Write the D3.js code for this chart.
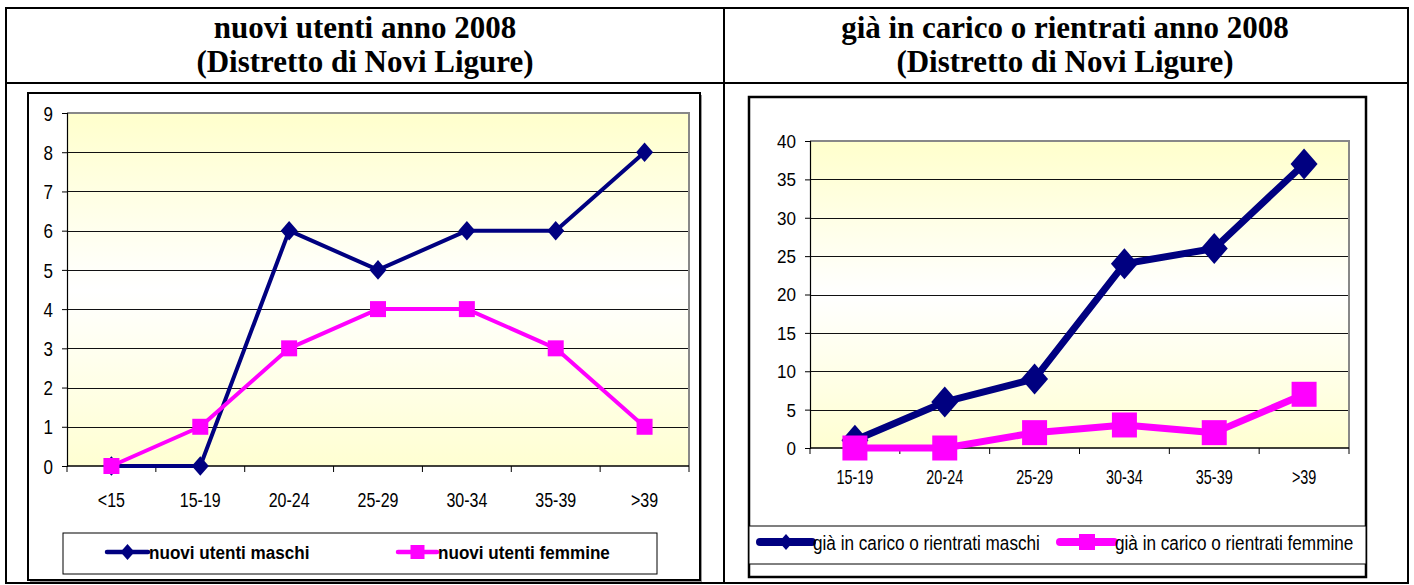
<!DOCTYPE html>
<html><head><meta charset="utf-8">
<script src="https://cdn.jsdelivr.net/npm/d3@7"></script>
<style>body{margin:0;background:#fff}svg{display:block}</style>
</head><body><svg id="c" width="1414" height="585"></svg>
<script>
const leftTitle = ["nuovi utenti anno 2008", "(Distretto di Novi Ligure)"];
const rightTitle = ["già in carico o rientrati anno 2008", "(Distretto di Novi Ligure)"];
const leftCats = ["<15","15-19","20-24","25-29","30-34","35-39",">39"];
const leftMale = [0,0,6,5,6,6,8];
const leftFemale = [0,1,3,4,4,3,1];
const leftTicks = [0,1,2,3,4,5,6,7,8,9];
const leftNames = ["nuovi utenti maschi","nuovi utenti femmine"];
const rightCats = ["15-19","20-24","25-29","30-34","35-39",">39"];
const rightMale = [1,6,9,24,26,37];
const rightFemale = [0,0,2,3,2,7];
const rightTicks = [0,5,10,15,20,25,30,35,40];
const rightNames = ["già in carico o rientrati maschi","già in carico o rientrati femmine"];

const NAVY="#000080", MAG="#FF00FF";
const FONT="Liberation Sans, Arial, sans-serif";
const svg = d3.select("#c");
const defs = svg.append("defs");
const g = defs.append("linearGradient").attr("id","bg").attr("x1",0).attr("y1",0).attr("x2",0).attr("y2",1);
g.append("stop").attr("offset","0%").attr("stop-color","#FFFFCC");
g.append("stop").attr("offset","50%").attr("stop-color","#FFFFFF");
g.append("stop").attr("offset","100%").attr("stop-color","#FFFFD2");

// outer table
const T = svg.append("g").attr("stroke","#000").attr("stroke-width",2).attr("fill","none");
T.append("rect").attr("x",6).attr("y",8).attr("width",1402).attr("height",575);
T.append("line").attr("x1",724).attr("x2",724).attr("y1",8).attr("y2",583);
T.append("line").attr("x1",6).attr("x2",1408).attr("y1",83).attr("y2",83);

function title(lines, cx){
  lines.forEach((t,i)=>svg.append("text").attr("x",cx).attr("y",38+i*34)
    .attr("text-anchor","middle").attr("font-family","Liberation Serif, Times New Roman, serif")
    .attr("font-weight","bold").attr("font-size",31).text(t));
}
title(leftTitle, 365);
title(rightTitle, 1065);

function diamond(s){return `M0,${-s*1.15}L${s},0L0,${s*1.15}L${-s},0Z`;}

function chart(o){
  const x = d3.scaleBand().domain(o.cats).range([o.x0,o.x1]);
  const y = d3.scaleLinear().domain([0,o.max]).range([o.y0,o.y1]);
  const G = svg.append("g");
  G.append("rect").attr("x",o.x0).attr("y",o.y1).attr("width",o.x1-o.x0).attr("height",o.y0-o.y1)
    .attr("fill","url(#bg)");
  G.append("g").selectAll("line").data(o.ticks.slice(1)).join("line")
    .attr("x1",o.x0).attr("x2",o.x1).attr("y1",d=>Math.round(y(d))+0.5).attr("y2",d=>Math.round(y(d))+0.5)
    .attr("stroke","#111").attr("stroke-width",1);
  G.append("path").attr("d",`M${o.x0},${o.y1}H${o.x1}V${o.y0}`).attr("fill","none").attr("stroke","#888").attr("stroke-width",2);
  // y axis
  const ya = d3.axisLeft(y).tickValues(o.ticks).tickSize(5).tickFormat(d3.format("d"));
  const yg = G.append("g").attr("transform",`translate(${o.x0},0)`).call(ya);
  yg.select(".domain").attr("stroke","#000").attr("stroke-width",1.2);
  yg.selectAll(".tick line").attr("stroke","#000");
  yg.selectAll(".tick text").attr("font-family",FONT).attr("font-size",o.yfs).attr("fill","#000")
    .attr("dy",null).attr("x",0).attr("y",0)
    .attr("transform",`translate(${-o.ypad},${o.yfs*0.36}) scale(${o.ysx},1)`);
  // x axis
  const xb = d3.scaleLinear().domain([0,o.cats.length]).range([o.x0,o.x1]);
  G.append("line").attr("x1",o.x0).attr("x2",o.x1).attr("y1",o.y0).attr("y2",o.y0).attr("stroke","#000").attr("stroke-width",1.5);
  G.append("g").selectAll("line").data(d3.range(o.cats.length+1)).join("line")
    .attr("x1",d=>xb(d)).attr("x2",d=>xb(d)).attr("y1",o.y0).attr("y2",o.y0+6).attr("stroke","#000").attr("stroke-width",1);
  G.append("g").selectAll("text").data(o.cats).join("text")
    .attr("transform",d=>`translate(${x(d)+x.bandwidth()/2},${o.labY}) scale(${o.xsx},1)`)
    .attr("text-anchor","middle").attr("font-family",FONT)
    .attr("font-size",o.xfs).text(d=>d);
  const cx = (d,i)=>x(o.cats[i])+x.bandwidth()/2;
  const line = d3.line().x((d,i)=>cx(d,i)).y(d=>y(d));
  [[o.male,NAVY,"d"],[o.female,MAG,"s"]].forEach(([data,col,m])=>{
    G.append("path").attr("d",line(data)).attr("fill","none").attr("stroke",col).attr("stroke-width",o.lw).attr("stroke-linejoin","round");
    G.append("g").selectAll("path").data(data).join("path")
      .attr("transform",(d,i)=>`translate(${cx(d,i)},${y(d)})`)
      .attr("d",m==="d"?diamond(o.ds):`M${-o.ss},${-o.ss}h${2*o.ss}v${2*o.ss}h${-2*o.ss}Z`)
      .attr("fill",col);
  });
  // legend
  const L = svg.append("g");
  L.append("rect").attr("x",o.lx).attr("y",o.ly).attr("width",o.lw2).attr("height",o.lh).attr("fill","#fff").attr("stroke","#000").attr("stroke-width",1);
  o.names.forEach((n,i)=>{
    const it=o.items[i]; const ly=o.lcy;
    L.append("line").attr("x1",it[0]).attr("x2",it[1]).attr("y1",ly).attr("y2",ly)
      .attr("stroke",i?MAG:NAVY).attr("stroke-width",o.llw).attr("stroke-linecap","round");
    const mx=(it[0]+it[1])/2;
    L.append("path").attr("transform",`translate(${mx},${ly})`)
      .attr("d",i?`M${-o.lms},${-o.lms}h${2*o.lms}v${2*o.lms}h${-2*o.lms}Z`:diamond(o.lmd)).attr("fill",i?MAG:NAVY);
    L.append("text").attr("transform",`translate(${it[1]+1},${o.ltY}) scale(${o.lsx},1)`)
      .attr("font-family",FONT).attr("font-size",o.lfs)
      .attr("font-weight",o.lbold?"bold":"normal").text(n);
  });
}

// left chart frame
svg.append("rect").attr("x",30).attr("y",95).attr("width",672).attr("height",487).attr("fill","#999");
svg.append("rect").attr("x",28).attr("y",93).attr("width",672).attr("height",487).attr("fill","#fff").attr("stroke","#000").attr("stroke-width",2);
// right chart frame
svg.append("rect").attr("x",749).attr("y",97).attr("width",617).attr("height",480).attr("fill","#fff").attr("stroke","#000").attr("stroke-width",2.5);

chart({cats:leftCats,male:leftMale,female:leftFemale,ticks:leftTicks,max:9,names:leftNames,
  x0:67,x1:689,y0:466,y1:113,yfs:20,ysx:0.85,ypad:14,xfs:20,xsx:0.8,labY:507,lw:4,ds:8.5,ss:8,
  lx:63,ly:533,lw2:594,lh:41,lcy:552,ltY:559,items:[[107,148],[398,437]],llw:4.5,lms:7,lmd:7,lfs:19,lsx:0.9,lbold:true});
chart({cats:rightCats,male:rightMale,female:rightFemale,ticks:rightTicks,max:40,names:rightNames,
  x0:810,x1:1349,y0:448,y1:141,yfs:18,ysx:0.95,ypad:14,xfs:20,xsx:0.72,labY:484,lw:7,ds:13.5,ss:12.5,
  lx:749,ly:526,lw2:617,lh:38,lcy:542,ltY:550,items:[[760,812],[1060,1114]],llw:8,lms:8,lmd:7,lfs:19.5,lsx:0.88,lbold:false});
</script></body></html>
